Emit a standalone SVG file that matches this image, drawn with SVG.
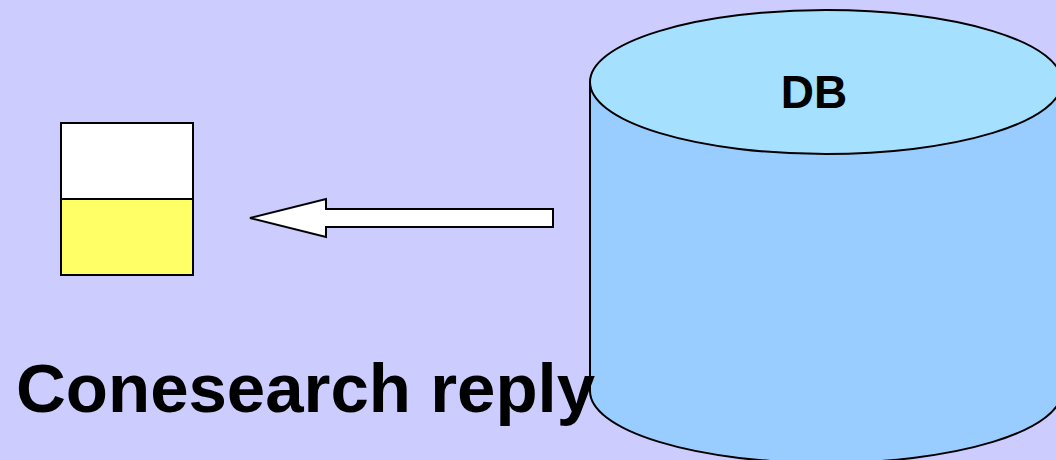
<svg xmlns="http://www.w3.org/2000/svg" width="1056" height="460" viewBox="0 0 1056 460">
<style>
.ln{stroke:#000;stroke-width:2}
.t{font-family:"Liberation Sans",Arial,sans-serif;font-weight:bold;fill:#000}
</style>
<rect x="0" y="0" width="1056" height="460" fill="#CCCCFF"/>
<g id="db">
<path class="ln" d="M590,82 L590,391 A236,72 0 0 0 1062,391 L1062,82 Z" fill="#99CCFF"/>
<ellipse class="ln" cx="826" cy="82" rx="236" ry="72" fill="#A6E0FF"/>
<text class="t" x="814" y="108" font-size="46" text-anchor="middle">DB</text>
</g>
<g id="result">
<rect class="ln" x="61" y="123" width="132" height="76" fill="#FFFFFF"/>
<rect class="ln" x="61" y="199" width="132" height="76" fill="#FFFF66"/>
</g>
<g id="connectors">
<polygon class="ln" points="250,218 326,199 326,209 553,209 553,227 326,227 326,237" fill="#FFFFFF" stroke-linejoin="miter"/>
</g>
<g id="label">
<text class="t" x="16" y="412" font-size="69">Conesearch reply</text>
</g>
</svg>
